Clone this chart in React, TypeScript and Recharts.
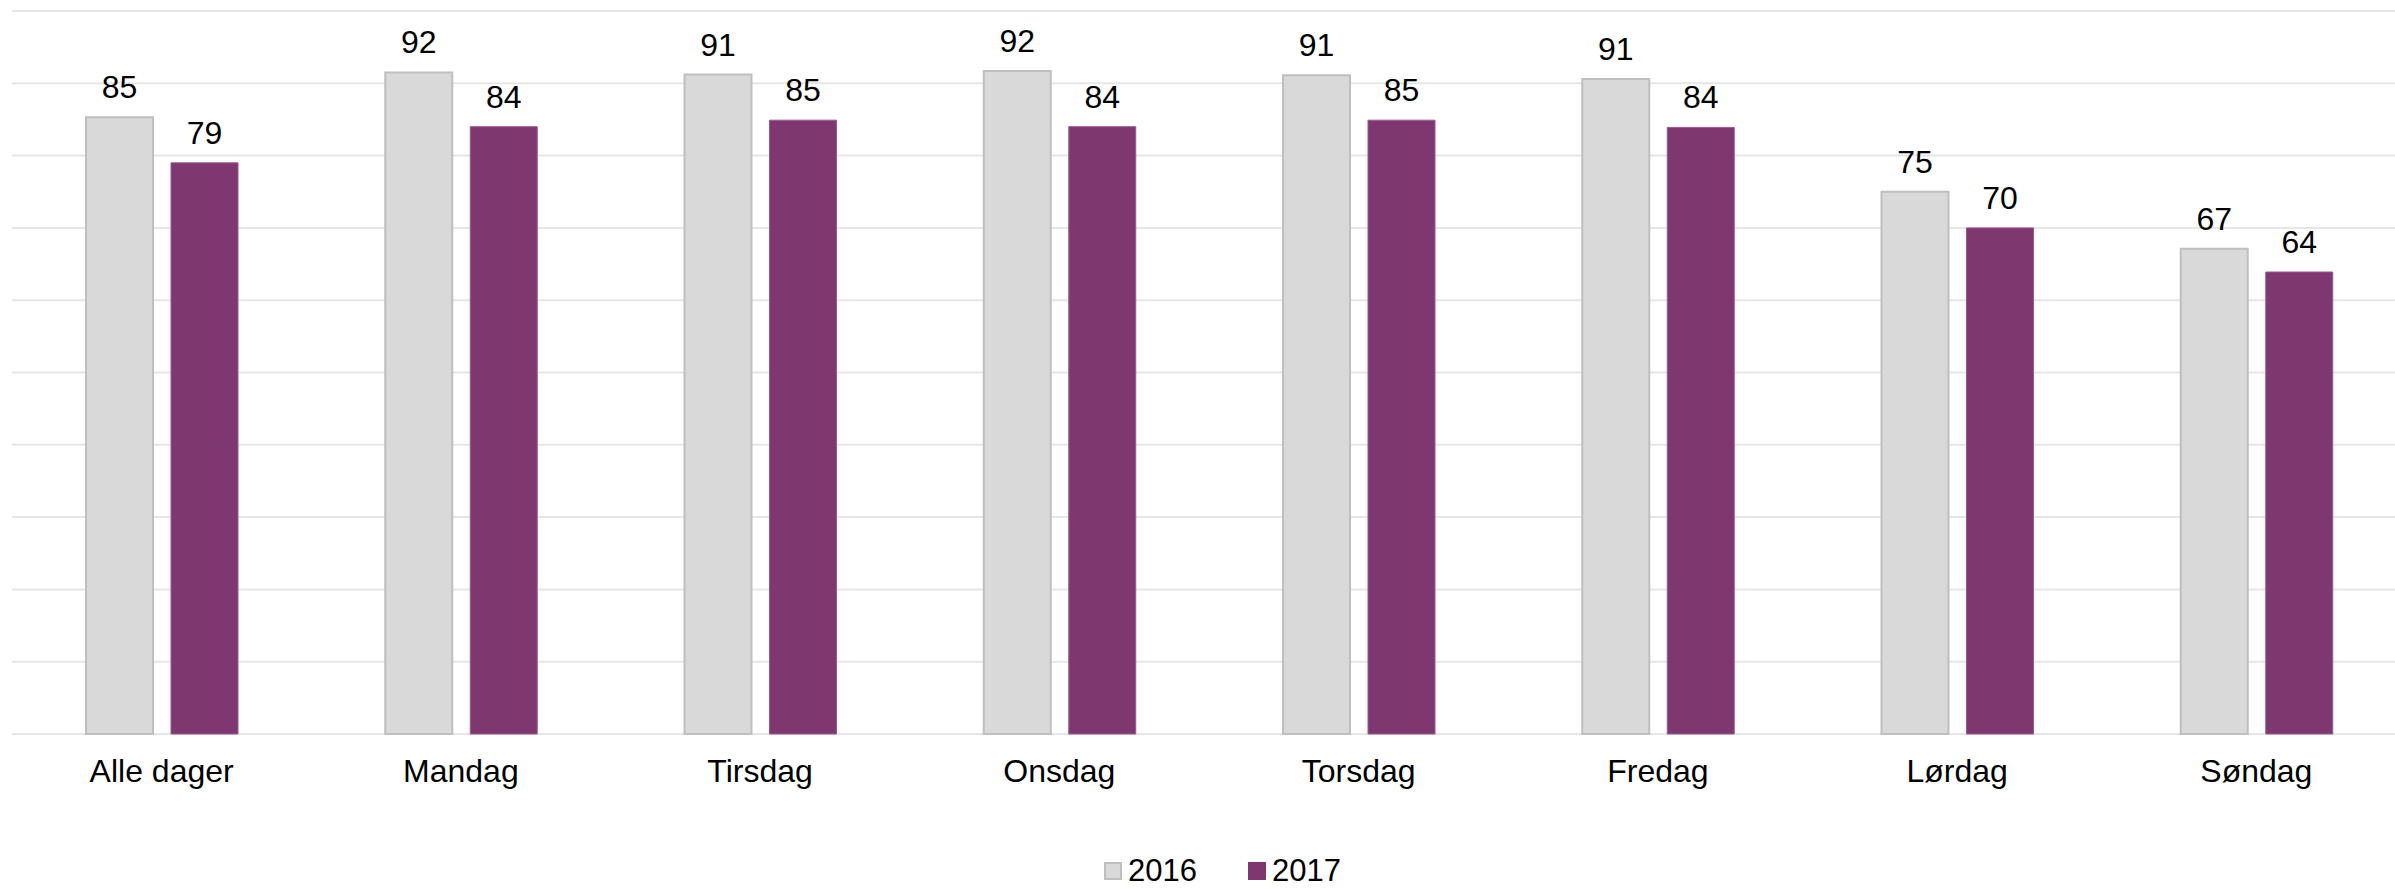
import React from 'react';
import { BarChart, Bar, XAxis, YAxis, CartesianGrid, Legend, LabelList } from 'recharts';

const categories = ['Alle dager', 'Mandag', 'Tirsdag', 'Onsdag', 'Torsdag', 'Fredag', 'Lørdag', 'Søndag'];
const values2016 = [85.3, 91.5, 91.2, 91.7, 91.1, 90.6, 75.0, 67.1];
const values2017 = [79.0, 84.0, 84.9, 84.0, 84.9, 83.9, 70.0, 63.9];
const yTicks = [0, 10, 20, 30, 40, 50, 60, 70, 80, 90, 100];

const seriesInfo = [
  { key: 'y2016', name: '2016', fill: '#D9D9D9', stroke: '#BFBFBF' },
  { key: 'y2017', name: '2017', fill: '#7F3770', stroke: '#9A5A8C' },
];

const data = categories.map((c, i) => ({ name: c, y2016: values2016[i], y2017: values2017[i] }));

const FONT = '"Liberation Sans", Arial, sans-serif';

const CategoryTick = (props: any) => {
  const { x, y, payload } = props;
  return (
    <text x={x} y={y + 48} textAnchor="middle" fontSize={32} fontFamily={FONT} fill="#000">
      {payload.value}
    </text>
  );
};

const LegendContent = () => (
  <div
    style={{
      display: 'flex',
      alignItems: 'center',
      height: 32,
      paddingLeft: 1104,
      fontFamily: FONT,
      fontSize: 31,
      lineHeight: '32px',
      color: '#000',
    }}
  >
    {seriesInfo.map((s, i) => (
      <div key={s.key} style={{ display: 'flex', alignItems: 'center', marginRight: i === 0 ? 51 : 0 }}>
        <div
          style={{
            width: 18,
            height: 18,
            boxSizing: 'border-box',
            background: s.fill,
            border: i === 0 ? `2px solid ${s.stroke}` : 'none',
            marginRight: 6,
          }}
        />
        <span style={{ lineHeight: '32px' }}>{s.name}</span>
      </div>
    ))}
  </div>
);

export default function App() {
  return (
    <div style={{ position: 'absolute', left: 0, top: 0, width: 2395, height: 889, overflow: 'hidden', background: '#fff' }}>
      <BarChart
        width={2406}
        height={889}
        data={data}
        margin={{ top: 11, right: 0, left: 12, bottom: 63 }}
        barGap={18}
        barSize={67}
      >
        <CartesianGrid vertical={false} stroke="#E6E6E6" strokeWidth={2} />
        <YAxis hide domain={[0, 100]} ticks={yTicks} />
        <XAxis
          dataKey="name"
          axisLine={false}
          tickLine={false}
          tickSize={0}
          tickMargin={0}
          height={60}
          interval={0}
          tick={<CategoryTick />}
        />
        <Legend
          verticalAlign="bottom"
          content={<LegendContent />}
          wrapperStyle={{ top: 855, bottom: 'auto', left: 0, width: 2395, height: 32 }}
        />
        {seriesInfo.map((s, i) => (
          <Bar
            key={s.key}
            dataKey={s.key}
            name={s.name}
            fill={s.fill}
            stroke={s.stroke}
            strokeWidth={i === 0 ? 2 : 1}
            isAnimationActive={false}
          >
            <LabelList
              dataKey={s.key}
              position="top"
              offset={19}
              formatter={(v: any) => Math.round(Number(v))}
              fontSize={32}
              fontFamily={FONT}
              fill="#000"
            />
          </Bar>
        ))}
      </BarChart>
    </div>
  );
}
